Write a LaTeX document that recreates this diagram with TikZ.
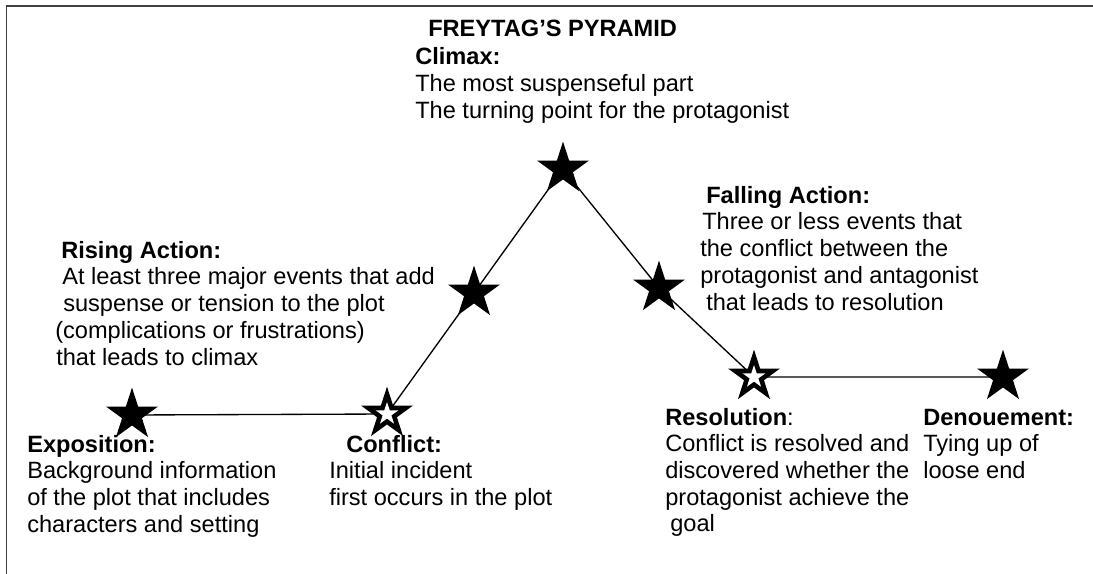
\documentclass[tikz,border=0pt]{standalone}
\usepackage{fontspec}
\setmainfont{Liberation Sans}
\usetikzlibrary{shapes.geometric,backgrounds}
\newcommand{\txtsize}{\fontsize{17.7pt}{20pt}\selectfont}

\begin{document}
\begin{tikzpicture}[x=0.75pt,y=-0.75pt,
    lbl/.style={anchor=base west,inner sep=0pt,font=\txtsize},
    head/.style={lbl,font=\txtsize\bfseries},
    bstar/.style={star,star points=5,star point ratio=2.618,fill=black,
      inner sep=0pt,minimum size=41pt},
    wstar/.style={bstar,fill=white,minimum size=18pt},
    plotline/.style={line width=1pt}]
    \useasboundingbox (0,0) rectangle (1093,574);
    \def\lsep{26.7}

    % Frame, top and left only
    \draw[black!75,line width=1.4pt] (1093,6) -- (6.5,6) -- (6.5,574);

    % Title
    \node[head] (title) at (428,36.7) {FREYTAG’S PYRAMID};

    % Stars along the plot line
    \node[bstar] (expo) at (132,415) {};
    \node[bstar] (conf) at (387,414) {};
    \node[wstar] (conf-in) at (conf) {};
    \node[bstar] (rise) at (474,293) {};
    \node[bstar] (clim) at (563,169) {};
    \node[bstar] (fall) at (659,288) {};
    \node[bstar] (reso) at (754,377) {};
    \node[wstar] (reso-in) at (reso) {};
    \node[bstar] (deno) at (1003,377) {};

    \begin{pgfonlayer}{background}
      \draw[plotline] (expo.center) -- (conf.center) -- (rise.center)
        -- (clim.center) -- (fall.center) -- (reso.center) -- (deno.center);
    \end{pgfonlayer}

    % Climax
    \node[head] (clim-h) at (415,65) {Climax:};
    \foreach \t [count=\i] in {The most suspenseful part,
        The turning point for the protagonist}
      \node[lbl] (clim-\i) at (415,65+\lsep*\i) {\t};

    % Rising action
    \node[head] (rise-h) at (61,258.3) {Rising Action:};
    \foreach \x/\t [count=\i] in {62/At least three major events that add,
        63/suspense or tension to the plot, 55/(complications or frustrations),
        56/that leads to climax}
      \node[lbl] (rise-\i) at (\x,258.3+\lsep*\i) {\t};

    % Falling action
    \node[head] (fall-h) at (706,203.3) {Falling Action:};
    \foreach \x/\t [count=\i] in {702/Three or less events that,
        700/the conflict between the, 700/protagonist and antagonist,
        706/that leads to resolution}
      \node[lbl] (fall-\i) at (\x,203.3+\lsep*\i) {\t};

    % Exposition
    \node[head] (expo-h) at (27,452) {Exposition:};
    \foreach \t [count=\i] in {Background information,
        of the plot that includes, characters and setting}
      \node[lbl] (expo-\i) at (27,452+\lsep*\i) {\t};

    % Conflict
    \node[head] (conf-h) at (346,452) {Conflict:};
    \foreach \t [count=\i] in {Initial incident, first occurs in the plot}
      \node[lbl] (conf-\i) at (329,452+\lsep*\i) {\t};

    % Resolution
    \node[lbl] (reso-h) at (665,425) {\textbf{Resolution}:};
    \foreach \x/\t [count=\i] in {665/Conflict is resolved and,
        665/discovered whether the, 665/protagonist achieve the, 670/goal}
      \node[lbl] (reso-\i) at (\x,425+\lsep*\i) {\t};

    % Denouement
    \node[head] (deno-h) at (923,425) {Denouement:};
    \foreach \t [count=\i] in {Tying up of, loose end}
      \node[lbl] (deno-\i) at (923,425+\lsep*\i) {\t};
\end{tikzpicture}
\end{document}
